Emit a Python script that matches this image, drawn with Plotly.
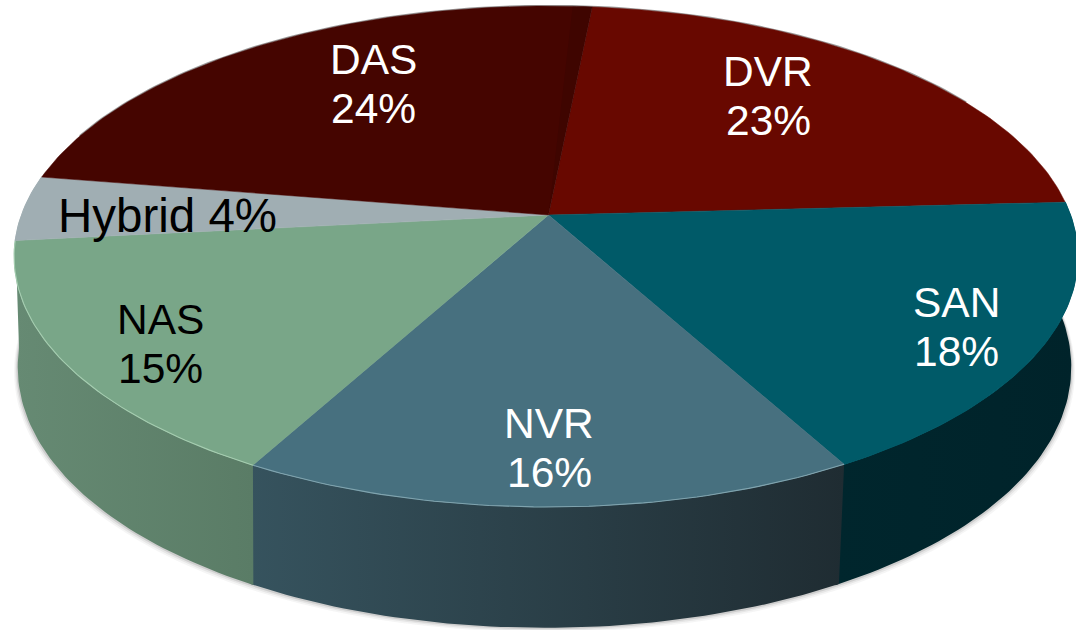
import math
import plotly.graph_objects as go

# Data
categories = ["DVR", "SAN", "NVR", "NAS", "Hybrid", "DAS"]
values = [22.6, 17.8, 16.0, 15.4, 4.2, 24.0]
top_colors = ["#680800", "#005a68", "#47707f", "#79a688", "#a0aeb3", "#450500"]
side_left = ["#3a0400", "#00262d", "#36535e", "#668a73", "#8c9a9e", "#2a0300"]
side_right = ["#3a0400", "#00232a", "#1f2c32", "#5a7c66", "#8c9a9e", "#2a0300"]
rim_colors = ["#680800", "#005a68", "#7fa3ae", "#a5cdb0", "#a0aeb3", "#450500"]
text_colors = ["white", "white", "white", "black", "black", "white"]

START_DEG = 5.6
K_TOP = 0.1657
K_BOTTOM = 0.147
APEX = (548.5, 215.0)


def top_pt(deg):
    a = math.radians(deg)
    u, v = math.sin(a), -math.cos(a)
    s = 1 / (1 - K_TOP * v)
    rx = 522 if u > 0 else 527
    return APEX[0] + rx * u * s, APEX[1] + 243.6 * v * s


def bottom_pt(deg):
    a = math.radians(deg)
    u, v = math.sin(a), -math.cos(a)
    sx = 1 / (1 - K_TOP * v)
    sy = 1 / (1 - K_BOTTOM * v)
    rx = 519 if u > 0 else 520
    return 545 + rx * u * sx, APEX[1] + 108 + 260 * v * sy


def arc(fn, a0, a1, step=1.0):
    n = max(2, int(abs(a1 - a0) / step) + 1)
    pts = [fn(a0 + (a1 - a0) * i / (n - 1)) for i in range(n)]
    return [p[0] for p in pts], [p[1] for p in pts]


bounds = [START_DEG]
for val in values:
    bounds.append(bounds[-1] + val * 3.6)

fig = go.Figure()

# soft drop shadow beneath the solid
for grow, alpha in [(6, 0.05), (4, 0.08), (2, 0.14)]:
    xs, ys = arc(bottom_pt, 70, 290)
    fig.add_trace(go.Scatter(
        x=[x + (grow * 0.6 if x > 545 else -grow * 0.6) for x in xs] + [545],
        y=[y + grow * 0.7 for y in ys] + [300],
        fill="toself", mode="none", fillcolor=f"rgba(60,60,60,{alpha})",
        hoverinfo="skip", showlegend=False))

# side walls of the wedges facing the viewer (slight overlap hides seams)
for i in range(len(values)):
    a0, a1 = bounds[i], bounds[i + 1]
    if a1 < 90 or a0 > 262:
        continue
    tx, ty = arc(top_pt, a0, a1 + 0.4)
    bx, by = arc(bottom_pt, a0, a1 + 0.4)
    fig.add_trace(go.Scatter(
        x=tx + bx[::-1] + [tx[0]], y=ty + by[::-1] + [ty[0]],
        fill="toself", mode="lines", line=dict(width=0),
        fillgradient=dict(type="horizontal",
                          colorscale=[[0, side_left[i]], [1, side_right[i]]]),
        hoverinfo="skip", showlegend=False))

# faint outline around the back of the top face
xs, ys = arc(top_pt, -70, 60)
fig.add_trace(go.Scatter(x=xs, y=ys, mode="lines",
                         line=dict(color="rgba(90,90,90,0.6)", width=2.5),
                         hoverinfo="skip", showlegend=False))

# top faces
for i in range(len(values)):
    a0, a1 = bounds[i], bounds[i + 1]
    xs, ys = arc(top_pt, a0, a1)
    fig.add_trace(go.Scatter(
        x=[APEX[0]] + xs + [APEX[0]], y=[APEX[1]] + ys + [APEX[1]],
        fill="toself", mode="lines", fillcolor=top_colors[i],
        line=dict(width=0.5, color=top_colors[i]),
        name=categories[i], hoverinfo="skip", showlegend=False))
    rx, ry = arc(top_pt, a0, a1)
    if 150 < a1 < 280:
        fig.add_trace(go.Scatter(x=rx, y=ry, mode="lines",
                                 line=dict(color=rim_colors[i], width=1.1),
                                 hoverinfo="skip", showlegend=False))

# dark sliver of the DAS slice next to DVR
sx, sy = arc(top_pt, bounds[6] - 360 - 2.5, bounds[6] - 360, step=0.5)
fig.add_trace(go.Scatter(x=[APEX[0]] + sx + [APEX[0]], y=[APEX[1]] + sy + [APEX[1]],
                         fill="toself", mode="none", fillcolor="rgba(40,3,0,0.2)",
                         hoverinfo="skip", showlegend=False))

# labels: first line / second line centre positions
label_pos = {
    "DVR": ((768, 71), (768, 120)),
    "SAN": ((956, 302), (956, 351)),
    "NVR": ((549, 423), (549, 472)),
    "NAS": ((160, 319), (160, 368)),
    "DAS": ((373, 59), (373, 108)),
}
annotations = []
for i, name in enumerate(categories):
    pct = f"{round(values[i])}%"
    if name == "Hybrid":
        lines = [((167, 215, 47.5), f"{name} {pct}")]
    else:
        p1, p2 = label_pos[name]
        lines = [((*p1, 42.5), name), ((*p2, 42.5), pct)]
    for (x, y, size), txt in lines:
        annotations.append(dict(
            x=x, y=y, text=txt, showarrow=False, xanchor="center", yanchor="middle",
            font=dict(family="Liberation Sans", size=size, color=text_colors[i])))

fig.update_layout(
    width=1076, height=630, margin=dict(l=0, r=0, t=0, b=0),
    paper_bgcolor="white", plot_bgcolor="white", showlegend=False,
    xaxis=dict(range=[0, 1076], visible=False, fixedrange=True),
    yaxis=dict(range=[630, 0], visible=False, fixedrange=True),
    annotations=annotations,
)
fig.write_html("out.html", config={"displayModeBar": False},
               post_script="document.body.style.margin='0';document.body.style.overflow='hidden';")
